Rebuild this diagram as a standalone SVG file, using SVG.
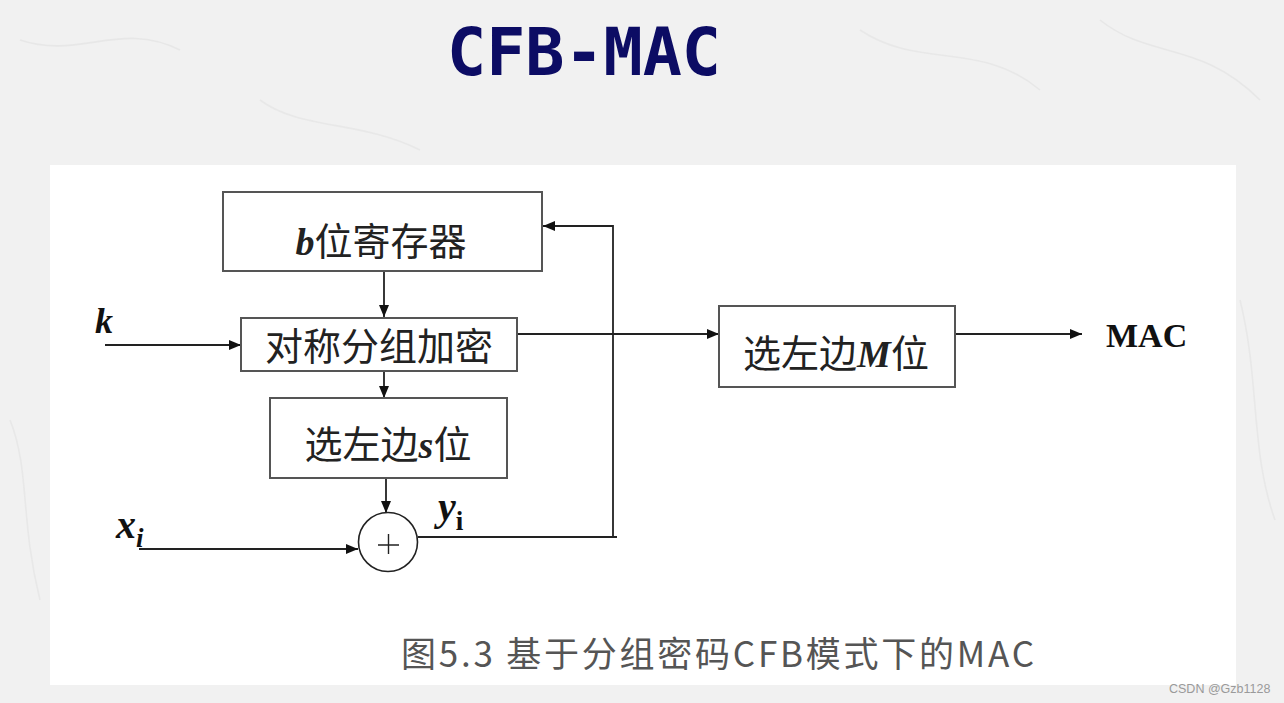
<svg xmlns="http://www.w3.org/2000/svg" width="1284" height="703" viewBox="0 0 1284 703">
  <style>
    .box { fill: #ffffff; stroke: #555555; stroke-width: 2; }
    .cn { font-family: "Liberation Serif", "Noto Sans CJK SC", serif; font-size: 38px; fill: #222222; text-anchor: middle; }
    .lat { font-family: "Liberation Serif", serif; font-style: italic; font-weight: bold; }
    .wire { fill: none; stroke: #222222; stroke-width: 1.8; }
    .lbl { font-family: "Liberation Serif", serif; font-weight: bold; fill: #111111; }
  </style>
  <defs>
    <marker id="arrow" markerUnits="userSpaceOnUse" markerWidth="12" markerHeight="10" refX="12" refY="5" orient="auto">
      <path d="M0,0 L12,5 L0,10 z" fill="#111111"/>
    </marker>
  </defs>

  <!-- background -->
  <rect x="0" y="0" width="1284" height="703" fill="#f1f1f1"/>
  <g stroke="#e4e4e4" stroke-width="1.6" fill="none" opacity="0.7">
    <path d="M20,40 C80,60 120,20 180,50"/>
    <path d="M860,30 C920,70 980,40 1040,90"/>
    <path d="M1100,20 C1150,60 1200,40 1260,100"/>
    <path d="M260,100 C300,130 360,120 420,150"/>
    <path d="M10,420 C30,470 20,520 40,600"/>
    <path d="M1240,300 C1260,380 1250,450 1275,520"/>
  </g>
  <rect x="50" y="165" width="1186" height="520" fill="#ffffff"/>

  <!-- title -->
  <text x="584" y="75" font-family="'DejaVu Sans Mono', monospace" font-weight="bold" font-size="65" fill="#0c0c64" text-anchor="middle">CFB-MAC</text>

  <!-- connectors -->
  <g id="connectors">
    <line class="wire" x1="384" y1="271" x2="384" y2="317" marker-end="url(#arrow)"/>
    <line class="wire" x1="105" y1="345" x2="241" y2="345" marker-end="url(#arrow)"/>
    <line class="wire" x1="384" y1="371" x2="384" y2="398" marker-end="url(#arrow)"/>
    <line class="wire" x1="386" y1="478" x2="386" y2="513" marker-end="url(#arrow)"/>
    <line class="wire" x1="139" y1="549" x2="358" y2="549" marker-end="url(#arrow)"/>
    <line class="wire" x1="418" y1="537" x2="617" y2="537"/>
    <path class="wire" d="M613,537 V226 H543" marker-end="url(#arrow)"/>
    <line class="wire" x1="517" y1="334" x2="719" y2="334" marker-end="url(#arrow)"/>
    <line class="wire" x1="955" y1="334" x2="1082" y2="334" marker-end="url(#arrow)"/>
  </g>

  <!-- nodes -->
  <g id="reg">
    <rect class="box" x="223" y="192" width="319" height="79"/>
    <text class="cn" x="381" y="255" font-size="40"><tspan class="lat">b</tspan>位寄存器</text>
  </g>
  <g id="enc">
    <rect class="box" x="241" y="318" width="276" height="53"/>
    <text class="cn" x="379" y="360">对称分组加密</text>
  </g>
  <g id="sel-s">
    <rect class="box" x="270" y="398" width="237" height="80"/>
    <text class="cn" x="388" y="458">选左边<tspan class="lat">s</tspan>位</text>
  </g>
  <g id="sel-m">
    <rect class="box" x="719" y="306" width="236" height="81"/>
    <text class="cn" x="836" y="367">选左边<tspan class="lat">M</tspan>位</text>
  </g>
  <g id="xor">
    <circle cx="388" cy="542" r="29.5" fill="#ffffff" stroke="#222222" stroke-width="1.6"/>
    <path d="M378,545 H399 M388.5,534 V554" stroke="#222222" stroke-width="1.4" fill="none"/>
  </g>

  <!-- labels -->
  <text class="lbl" x="95" y="333" font-size="36" font-style="italic">k</text>
  <text class="lbl" x="116" y="538" font-size="40" font-style="italic">x<tspan font-size="27" dy="9">i</tspan></text>
  <text class="lbl" x="438" y="520" font-size="40" font-style="italic">y<tspan font-size="27" dy="10" font-style="normal">i</tspan></text>
  <text class="lbl" x="1106" y="347" font-size="34">MAC</text>

  <!-- caption -->
  <text x="401" y="667" font-family="'Noto Sans CJK SC', 'Noto Sans', sans-serif" font-size="35" fill="#555555" textLength="633" lengthAdjust="spacing">图5.3 基于分组密码CFB模式下的MAC</text>

  <!-- watermark -->
  <text x="1169" y="693" font-family="'Liberation Sans', sans-serif" font-size="12.5" fill="#9a9a9a">CSDN @Gzb1128</text>
</svg>
